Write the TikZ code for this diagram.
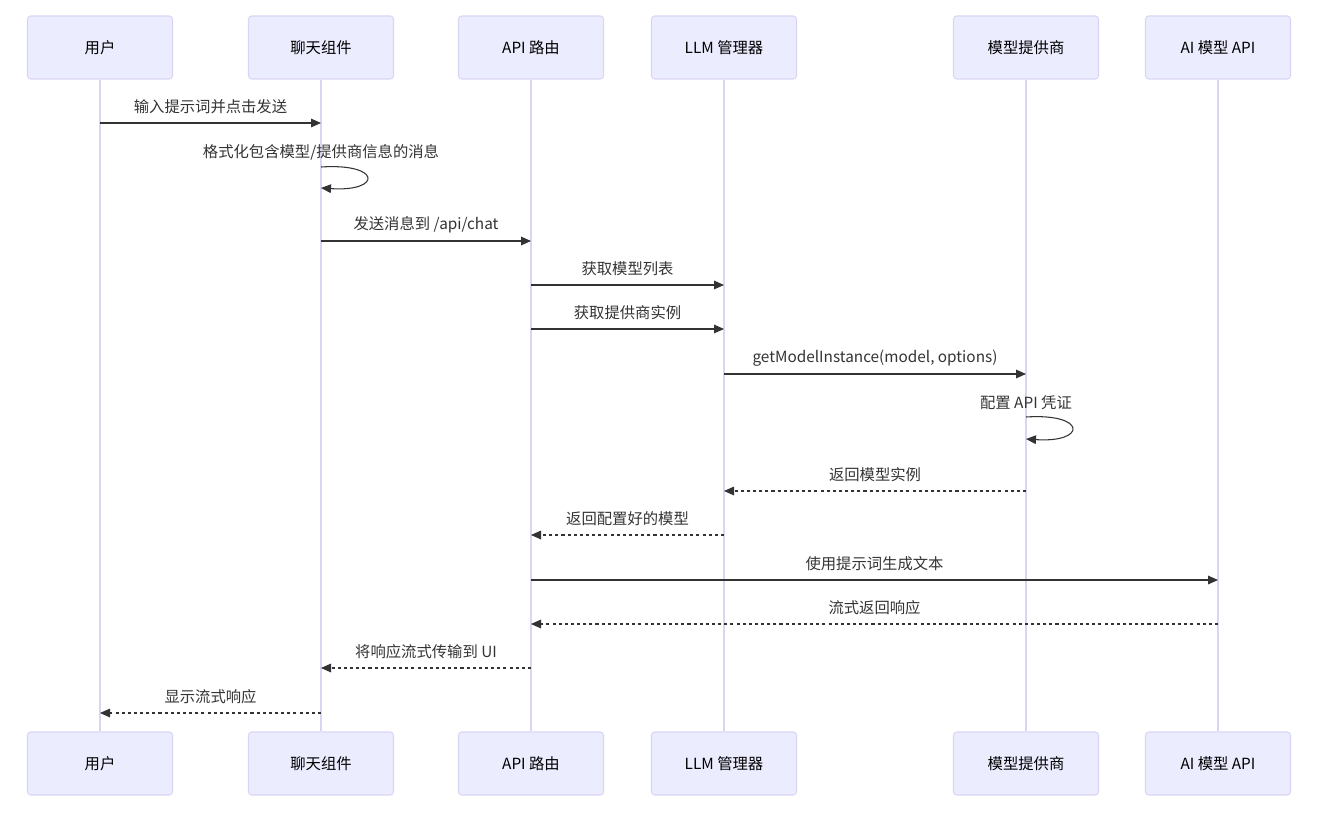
\documentclass[tikz,border=0pt]{standalone}
\usepackage{fontspec}
\setmainfont{Noto Sans CJK SC}
\usetikzlibrary{arrows.meta}
\definecolor{boxfill}{HTML}{ECECFF}
\definecolor{boxline}{HTML}{DAD5F5}
\definecolor{lifeline}{HTML}{DAD6F2}
\definecolor{msgc}{HTML}{333333}
\tikzset{
  actor/.style={draw=boxline, fill=boxfill, rounded corners=2.5pt, line width=0.8pt,
    minimum width=108.75pt, minimum height=47.25pt, inner sep=0pt,
    font=\fontsize{11.5}{13}\selectfont, text=black},
  lifel/.style={draw=lifeline, line width=1.3pt},
  msg/.style={draw=msgc, line width=0.8pt, -{Triangle[length=7.5pt,width=6.5pt]}},
  reply/.style={msg, dash pattern=on 2.3pt off 2.3pt},
  lbl/.style={font=\fontsize{11.5}{13}\selectfont, text=msgc, inner sep=0pt}
}
\begin{document}
\begin{tikzpicture}[x=0.75pt,y=-0.75pt]
\useasboundingbox (0,0) rectangle (1322,824);
% top actors
\node[actor] (t1) at (100,47.5) {用户};
\node[actor] (t2) at (321,47.5) {聊天组件};
\node[actor] (t3) at (531,47.5) {API 路由};
\node[actor] (t4) at (724,47.5) {LLM 管理器};
\node[actor] (t5) at (1026,47.5) {模型提供商};
\node[actor] (t6) at (1218,47.5) {AI 模型 API};
% bottom actors
\node[actor] (b1) at (100,763.5) {用户};
\node[actor] (b2) at (321,763.5) {聊天组件};
\node[actor] (b3) at (531,763.5) {API 路由};
\node[actor] (b4) at (724,763.5) {LLM 管理器};
\node[actor] (b5) at (1026,763.5) {模型提供商};
\node[actor] (b6) at (1218,763.5) {AI 模型 API};
% lifelines
\foreach \i in {1,...,6} { \draw[lifel] (t\i.south) -- (b\i.north); }
% messages
\draw[msg] (t1.south |- 0,123) -- (t2.south |- 0,123)
  node[lbl, midway, yshift=12pt] {输入提示词并点击发送};
\node[lbl] (l1) at (321,152) {格式化包含模型/提供商信息的消息};
\draw[msg] (t2.south |- 0,167) .. controls +(61,-4) and +(61,4) .. (t2.south |- 0,188);
\draw[msg] (t2.south |- 0,241) -- (t3.south |- 0,241)
  node[lbl, midway, yshift=12pt] {发送消息到 /api/chat};
\draw[msg] (t3.south |- 0,285) -- (t4.south |- 0,285)
  node[lbl, midway, yshift=12pt] {获取模型列表};
\draw[msg] (t3.south |- 0,329) -- (t4.south |- 0,329)
  node[lbl, midway, yshift=12pt] {获取提供商实例};
\draw[msg] (t4.south |- 0,374) -- (t5.south |- 0,374)
  node[lbl, midway, yshift=12pt] {getModelInstance(model, options)};
\node[lbl] (l2) at (1026,403) {配置 API 凭证};
\draw[msg] (t5.south |- 0,417) .. controls +(61,-4) and +(61,4) .. (t5.south |- 0,439);
\draw[reply] (t5.south |- 0,491) -- (t4.south |- 0,491)
  node[lbl, midway, yshift=12pt] {返回模型实例};
\draw[reply] (t4.south |- 0,535) -- (t3.south |- 0,535)
  node[lbl, midway, yshift=12pt] {返回配置好的模型};
\draw[msg] (t3.south |- 0,580) -- (t6.south |- 0,580)
  node[lbl, midway, yshift=12pt] {使用提示词生成文本};
\draw[reply] (t6.south |- 0,624) -- (t3.south |- 0,624)
  node[lbl, midway, yshift=12pt] {流式返回响应};
\draw[reply] (t3.south |- 0,668) -- (t2.south |- 0,668)
  node[lbl, midway, yshift=12pt] {将响应流式传输到 UI};
\draw[reply] (t2.south |- 0,713) -- (t1.south |- 0,713)
  node[lbl, midway, yshift=12pt] {显示流式响应};
\end{tikzpicture}
\end{document}
